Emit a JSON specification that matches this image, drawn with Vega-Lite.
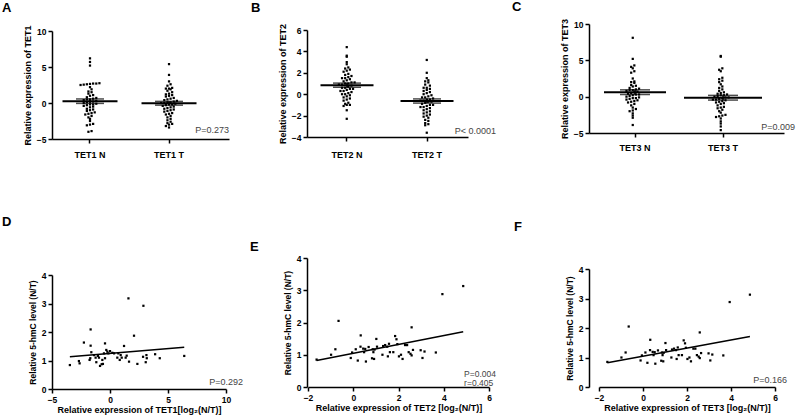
{
  "$schema": "https://vega.github.io/schema/vega-lite/v6.json",
  "padding": {"left": 2, "top": 0, "right": 0, "bottom": 0},
  "background": "white",
  "config": {
    "view": {"stroke": null},
    "font": "Liberation Sans",
    "axis": {"grid": false, "domainColor": "black", "domainWidth": 1.5, "tickColor": "black", "tickWidth": 1.5, "tickSize": 4, "labelColor": "black", "labelFont": "Liberation Sans", "labelFontWeight": "bold", "labelFontSize": 8.5, "labelPadding": 2, "labelFlush": false, "titleColor": "black", "titleFont": "Liberation Sans", "titleFontWeight": "bold", "titleFontSize": 9, "titlePadding": 4},
    "axisX": {"titlePadding": 2},
    "title": {"fontSize": 13, "fontWeight": "bold", "anchor": "start", "frame": "group", "color": "black", "font": "Liberation Sans"}
  },
  "datasets": {
    "tet1": [
      {"g": "TET1 N", "v": 6.2}, {"g": "TET1 N", "v": 5.7}, {"g": "TET1 N", "v": 5.2}, {"g": "TET1 N", "v": 2.75}, {"g": "TET1 N", "v": 2.7}, {"g": "TET1 N", "v": 2.7}, {"g": "TET1 N", "v": 2.65}, {"g": "TET1 N", "v": 2.6}, {"g": "TET1 N", "v": 2.55}, {"g": "TET1 N", "v": 2.5}, {"g": "TET1 N", "v": 2.2}, {"g": "TET1 N", "v": 1.9}, {"g": "TET1 N", "v": 1.6}, {"g": "TET1 N", "v": 1.5}, {"g": "TET1 N", "v": 1.3}, {"g": "TET1 N", "v": 1.1}, {"g": "TET1 N", "v": 1.0}, {"g": "TET1 N", "v": 0.8}, {"g": "TET1 N", "v": 0.7}, {"g": "TET1 N", "v": 0.6}, {"g": "TET1 N", "v": 0.5}, {"g": "TET1 N", "v": 0.5}, {"g": "TET1 N", "v": 0.4}, {"g": "TET1 N", "v": 0.3}, {"g": "TET1 N", "v": 0.2}, {"g": "TET1 N", "v": 0.2}, {"g": "TET1 N", "v": 0.1}, {"g": "TET1 N", "v": 0.0}, {"g": "TET1 N", "v": -0.1}, {"g": "TET1 N", "v": -0.2}, {"g": "TET1 N", "v": -0.2}, {"g": "TET1 N", "v": -0.3}, {"g": "TET1 N", "v": -0.4}, {"g": "TET1 N", "v": -0.5}, {"g": "TET1 N", "v": -0.6}, {"g": "TET1 N", "v": -0.8}, {"g": "TET1 N", "v": -0.9}, {"g": "TET1 N", "v": -1.0}, {"g": "TET1 N", "v": -1.1}, {"g": "TET1 N", "v": -1.3}, {"g": "TET1 N", "v": -1.4}, {"g": "TET1 N", "v": -1.5}, {"g": "TET1 N", "v": -1.6}, {"g": "TET1 N", "v": -1.8}, {"g": "TET1 N", "v": -2.0}, {"g": "TET1 N", "v": -2.2}, {"g": "TET1 N", "v": -2.5}, {"g": "TET1 N", "v": -2.9}, {"g": "TET1 N", "v": -3.0}, {"g": "TET1 N", "v": -3.1}, {"g": "TET1 N", "v": -3.9}, {"g": "TET1 N", "v": -4.0},
      {"g": "TET1 T", "v": 5.4}, {"g": "TET1 T", "v": 3.9}, {"g": "TET1 T", "v": 3.0}, {"g": "TET1 T", "v": 2.6}, {"g": "TET1 T", "v": 2.4}, {"g": "TET1 T", "v": 2.1}, {"g": "TET1 T", "v": 2.0}, {"g": "TET1 T", "v": 2.0}, {"g": "TET1 T", "v": 1.9}, {"g": "TET1 T", "v": 1.7}, {"g": "TET1 T", "v": 1.5}, {"g": "TET1 T", "v": 1.3}, {"g": "TET1 T", "v": 1.2}, {"g": "TET1 T", "v": 1.1}, {"g": "TET1 T", "v": 1.0}, {"g": "TET1 T", "v": 0.9}, {"g": "TET1 T", "v": 0.7}, {"g": "TET1 T", "v": 0.6}, {"g": "TET1 T", "v": 0.5}, {"g": "TET1 T", "v": 0.4}, {"g": "TET1 T", "v": 0.3}, {"g": "TET1 T", "v": 0.2}, {"g": "TET1 T", "v": 0.1}, {"g": "TET1 T", "v": 0.1}, {"g": "TET1 T", "v": 0.0}, {"g": "TET1 T", "v": 0.0}, {"g": "TET1 T", "v": -0.1}, {"g": "TET1 T", "v": -0.2}, {"g": "TET1 T", "v": -0.2}, {"g": "TET1 T", "v": -0.3}, {"g": "TET1 T", "v": -0.4}, {"g": "TET1 T", "v": -0.5}, {"g": "TET1 T", "v": -0.6}, {"g": "TET1 T", "v": -0.7}, {"g": "TET1 T", "v": -0.8}, {"g": "TET1 T", "v": -0.9}, {"g": "TET1 T", "v": -1.0}, {"g": "TET1 T", "v": -1.1}, {"g": "TET1 T", "v": -1.2}, {"g": "TET1 T", "v": -1.4}, {"g": "TET1 T", "v": -1.5}, {"g": "TET1 T", "v": -1.6}, {"g": "TET1 T", "v": -1.8}, {"g": "TET1 T", "v": -2.0}, {"g": "TET1 T", "v": -2.2}, {"g": "TET1 T", "v": -2.4}, {"g": "TET1 T", "v": -2.6}, {"g": "TET1 T", "v": -2.8}, {"g": "TET1 T", "v": -2.9}, {"g": "TET1 T", "v": -3.0}, {"g": "TET1 T", "v": -3.2}, {"g": "TET1 T", "v": -3.4}
    ],
    "tet2": [
      {"g": "TET2 N", "v": 4.4}, {"g": "TET2 N", "v": 3.6}, {"g": "TET2 N", "v": 3.5}, {"g": "TET2 N", "v": 3.0}, {"g": "TET2 N", "v": 2.8}, {"g": "TET2 N", "v": 2.5}, {"g": "TET2 N", "v": 2.4}, {"g": "TET2 N", "v": 2.3}, {"g": "TET2 N", "v": 2.2}, {"g": "TET2 N", "v": 2.1}, {"g": "TET2 N", "v": 1.9}, {"g": "TET2 N", "v": 1.8}, {"g": "TET2 N", "v": 1.7}, {"g": "TET2 N", "v": 1.6}, {"g": "TET2 N", "v": 1.5}, {"g": "TET2 N", "v": 1.5}, {"g": "TET2 N", "v": 1.4}, {"g": "TET2 N", "v": 1.3}, {"g": "TET2 N", "v": 1.2}, {"g": "TET2 N", "v": 1.1}, {"g": "TET2 N", "v": 1.1}, {"g": "TET2 N", "v": 1.0}, {"g": "TET2 N", "v": 1.0}, {"g": "TET2 N", "v": 0.9}, {"g": "TET2 N", "v": 0.9}, {"g": "TET2 N", "v": 0.8}, {"g": "TET2 N", "v": 0.7}, {"g": "TET2 N", "v": 0.6}, {"g": "TET2 N", "v": 0.6}, {"g": "TET2 N", "v": 0.5}, {"g": "TET2 N", "v": 0.5}, {"g": "TET2 N", "v": 0.4}, {"g": "TET2 N", "v": 0.3}, {"g": "TET2 N", "v": 0.3}, {"g": "TET2 N", "v": 0.2}, {"g": "TET2 N", "v": 0.1}, {"g": "TET2 N", "v": 0.0}, {"g": "TET2 N", "v": 0.0}, {"g": "TET2 N", "v": -0.1}, {"g": "TET2 N", "v": -0.2}, {"g": "TET2 N", "v": -0.3}, {"g": "TET2 N", "v": -0.4}, {"g": "TET2 N", "v": -0.5}, {"g": "TET2 N", "v": -0.6}, {"g": "TET2 N", "v": -0.8}, {"g": "TET2 N", "v": -0.9}, {"g": "TET2 N", "v": -1.0}, {"g": "TET2 N", "v": -1.0}, {"g": "TET2 N", "v": -1.1}, {"g": "TET2 N", "v": -1.5}, {"g": "TET2 N", "v": -2.3},
      {"g": "TET2 T", "v": 3.2}, {"g": "TET2 T", "v": 2.0}, {"g": "TET2 T", "v": 1.5}, {"g": "TET2 T", "v": 1.3}, {"g": "TET2 T", "v": 1.2}, {"g": "TET2 T", "v": 1.1}, {"g": "TET2 T", "v": 0.9}, {"g": "TET2 T", "v": 0.8}, {"g": "TET2 T", "v": 0.6}, {"g": "TET2 T", "v": 0.6}, {"g": "TET2 T", "v": 0.5}, {"g": "TET2 T", "v": 0.4}, {"g": "TET2 T", "v": 0.3}, {"g": "TET2 T", "v": 0.2}, {"g": "TET2 T", "v": 0.1}, {"g": "TET2 T", "v": 0.0}, {"g": "TET2 T", "v": -0.1}, {"g": "TET2 T", "v": -0.2}, {"g": "TET2 T", "v": -0.3}, {"g": "TET2 T", "v": -0.3}, {"g": "TET2 T", "v": -0.4}, {"g": "TET2 T", "v": -0.5}, {"g": "TET2 T", "v": -0.5}, {"g": "TET2 T", "v": -0.6}, {"g": "TET2 T", "v": -0.6}, {"g": "TET2 T", "v": -0.7}, {"g": "TET2 T", "v": -0.7}, {"g": "TET2 T", "v": -0.8}, {"g": "TET2 T", "v": -0.9}, {"g": "TET2 T", "v": -1.0}, {"g": "TET2 T", "v": -1.0}, {"g": "TET2 T", "v": -1.1}, {"g": "TET2 T", "v": -1.2}, {"g": "TET2 T", "v": -1.2}, {"g": "TET2 T", "v": -1.3}, {"g": "TET2 T", "v": -1.4}, {"g": "TET2 T", "v": -1.5}, {"g": "TET2 T", "v": -1.6}, {"g": "TET2 T", "v": -1.7}, {"g": "TET2 T", "v": -1.8}, {"g": "TET2 T", "v": -1.9}, {"g": "TET2 T", "v": -2.0}, {"g": "TET2 T", "v": -2.1}, {"g": "TET2 T", "v": -2.2}, {"g": "TET2 T", "v": -2.4}, {"g": "TET2 T", "v": -2.5}, {"g": "TET2 T", "v": -2.7}, {"g": "TET2 T", "v": -2.8}, {"g": "TET2 T", "v": -2.9}, {"g": "TET2 T", "v": -3.6}
    ],
    "tet3": [
      {"g": "TET3 N", "v": 8.1}, {"g": "TET3 N", "v": 5.2}, {"g": "TET3 N", "v": 4.3}, {"g": "TET3 N", "v": 4.1}, {"g": "TET3 N", "v": 3.9}, {"g": "TET3 N", "v": 3.5}, {"g": "TET3 N", "v": 3.3}, {"g": "TET3 N", "v": 2.5}, {"g": "TET3 N", "v": 2.1}, {"g": "TET3 N", "v": 2.0}, {"g": "TET3 N", "v": 1.9}, {"g": "TET3 N", "v": 1.6}, {"g": "TET3 N", "v": 1.5}, {"g": "TET3 N", "v": 1.4}, {"g": "TET3 N", "v": 1.2}, {"g": "TET3 N", "v": 1.1}, {"g": "TET3 N", "v": 1.0}, {"g": "TET3 N", "v": 0.9}, {"g": "TET3 N", "v": 0.9}, {"g": "TET3 N", "v": 0.8}, {"g": "TET3 N", "v": 0.7}, {"g": "TET3 N", "v": 0.6}, {"g": "TET3 N", "v": 0.5}, {"g": "TET3 N", "v": 0.4}, {"g": "TET3 N", "v": 0.3}, {"g": "TET3 N", "v": 0.3}, {"g": "TET3 N", "v": 0.2}, {"g": "TET3 N", "v": 0.1}, {"g": "TET3 N", "v": 0.0}, {"g": "TET3 N", "v": -0.1}, {"g": "TET3 N", "v": -0.2}, {"g": "TET3 N", "v": -0.2}, {"g": "TET3 N", "v": -0.3}, {"g": "TET3 N", "v": -0.4}, {"g": "TET3 N", "v": -0.5}, {"g": "TET3 N", "v": -0.6}, {"g": "TET3 N", "v": -0.7}, {"g": "TET3 N", "v": -0.8}, {"g": "TET3 N", "v": -1.0}, {"g": "TET3 N", "v": -1.2}, {"g": "TET3 N", "v": -1.5}, {"g": "TET3 N", "v": -1.7}, {"g": "TET3 N", "v": -1.9}, {"g": "TET3 N", "v": -2.0}, {"g": "TET3 N", "v": -2.3}, {"g": "TET3 N", "v": -2.6}, {"g": "TET3 N", "v": -2.9}, {"g": "TET3 N", "v": -3.9},
      {"g": "TET3 T", "v": 5.6}, {"g": "TET3 T", "v": 5.5}, {"g": "TET3 T", "v": 3.9}, {"g": "TET3 T", "v": 3.7}, {"g": "TET3 T", "v": 3.5}, {"g": "TET3 T", "v": 2.6}, {"g": "TET3 T", "v": 2.4}, {"g": "TET3 T", "v": 2.2}, {"g": "TET3 T", "v": 2.0}, {"g": "TET3 T", "v": 1.7}, {"g": "TET3 T", "v": 1.4}, {"g": "TET3 T", "v": 1.2}, {"g": "TET3 T", "v": 1.0}, {"g": "TET3 T", "v": 0.8}, {"g": "TET3 T", "v": 0.6}, {"g": "TET3 T", "v": 0.5}, {"g": "TET3 T", "v": 0.4}, {"g": "TET3 T", "v": 0.3}, {"g": "TET3 T", "v": 0.2}, {"g": "TET3 T", "v": 0.2}, {"g": "TET3 T", "v": 0.1}, {"g": "TET3 T", "v": 0.0}, {"g": "TET3 T", "v": -0.1}, {"g": "TET3 T", "v": -0.1}, {"g": "TET3 T", "v": -0.2}, {"g": "TET3 T", "v": -0.3}, {"g": "TET3 T", "v": -0.4}, {"g": "TET3 T", "v": -0.4}, {"g": "TET3 T", "v": -0.5}, {"g": "TET3 T", "v": -0.6}, {"g": "TET3 T", "v": -0.7}, {"g": "TET3 T", "v": -0.8}, {"g": "TET3 T", "v": -0.9}, {"g": "TET3 T", "v": -1.0}, {"g": "TET3 T", "v": -1.2}, {"g": "TET3 T", "v": -1.4}, {"g": "TET3 T", "v": -1.5}, {"g": "TET3 T", "v": -1.6}, {"g": "TET3 T", "v": -1.8}, {"g": "TET3 T", "v": -2.0}, {"g": "TET3 T", "v": -2.2}, {"g": "TET3 T", "v": -2.5}, {"g": "TET3 T", "v": -2.6}, {"g": "TET3 T", "v": -2.7}, {"g": "TET3 T", "v": -2.8}, {"g": "TET3 T", "v": -3.0}, {"g": "TET3 T", "v": -3.4}, {"g": "TET3 T", "v": -3.7}, {"g": "TET3 T", "v": -4.1}, {"g": "TET3 T", "v": -4.6}
    ],
    "d": [
      {"x": -3.46, "y": 0.84}, {"x": -2.68, "y": 0.98}, {"x": -2.62, "y": 0.9}, {"x": -2.25, "y": 1.63}, {"x": -1.76, "y": 1.02}, {"x": -1.67, "y": 2.09}, {"x": -1.67, "y": 1.52}, {"x": -1.61, "y": 1.29}, {"x": -1.7, "y": 1.08}, {"x": -1.38, "y": 1.19}, {"x": -1.24, "y": 1.1}, {"x": -1.18, "y": 0.94}, {"x": -1.04, "y": 1.16}, {"x": -0.95, "y": 1.1}, {"x": -0.86, "y": 0.81}, {"x": -0.72, "y": 0.87}, {"x": -0.66, "y": 1.02}, {"x": -0.61, "y": 0.88}, {"x": -0.52, "y": 1.25}, {"x": -0.43, "y": 1.6}, {"x": -0.43, "y": 1.08}, {"x": -0.32, "y": 1.37}, {"x": -0.23, "y": 1.31}, {"x": -0.14, "y": 1.25}, {"x": 0.0, "y": 1.33}, {"x": 0.2, "y": 1.27}, {"x": 0.35, "y": 1.25}, {"x": 0.63, "y": 1.1}, {"x": 0.72, "y": 1.25}, {"x": 0.84, "y": 1.02}, {"x": 0.92, "y": 1.19}, {"x": 1.01, "y": 1.1}, {"x": 1.21, "y": 1.51}, {"x": 1.35, "y": 1.1}, {"x": 1.44, "y": 1.17}, {"x": 1.59, "y": 3.18}, {"x": 1.64, "y": 0.96}, {"x": 2.07, "y": 1.87}, {"x": 2.36, "y": 0.88}, {"x": 2.85, "y": 1.13}, {"x": 2.88, "y": 2.92}, {"x": 3.08, "y": 0.94}, {"x": 3.14, "y": 1.19}, {"x": 3.17, "y": 1.08}, {"x": 3.89, "y": 1.22}, {"x": 4.29, "y": 1.08}, {"x": 6.4, "y": 1.16}
    ],
    "ef": [
      {"x": -1.62, "y": 0.85}, {"x": -0.98, "y": 1.0}, {"x": -0.79, "y": 1.17}, {"x": -0.65, "y": 2.05}, {"x": -0.11, "y": 0.9}, {"x": -0.05, "y": 1.07}, {"x": 0.11, "y": 1.17}, {"x": 0.2, "y": 0.82}, {"x": 0.32, "y": 1.25}, {"x": 0.33, "y": 1.6}, {"x": 0.44, "y": 1.19}, {"x": 0.48, "y": 1.08}, {"x": 0.53, "y": 1.18}, {"x": 0.56, "y": 0.79}, {"x": 0.68, "y": 1.24}, {"x": 0.83, "y": 0.89}, {"x": 0.86, "y": 1.17}, {"x": 0.89, "y": 1.08}, {"x": 0.92, "y": 0.87}, {"x": 0.94, "y": 1.16}, {"x": 1.02, "y": 1.49}, {"x": 1.05, "y": 1.25}, {"x": 1.29, "y": 1.0}, {"x": 1.32, "y": 1.27}, {"x": 1.41, "y": 1.3}, {"x": 1.5, "y": 1.25}, {"x": 1.53, "y": 0.95}, {"x": 1.58, "y": 1.34}, {"x": 1.62, "y": 1.08}, {"x": 1.77, "y": 1.08}, {"x": 1.85, "y": 1.58}, {"x": 1.91, "y": 1.48}, {"x": 1.95, "y": 1.33}, {"x": 2.02, "y": 0.95}, {"x": 2.11, "y": 1.0}, {"x": 2.18, "y": 0.87}, {"x": 2.29, "y": 1.3}, {"x": 2.38, "y": 1.3}, {"x": 2.45, "y": 1.08}, {"x": 2.53, "y": 1.03}, {"x": 2.58, "y": 1.85}, {"x": 2.58, "y": 0.98}, {"x": 2.64, "y": 1.15}, {"x": 2.98, "y": 1.14}, {"x": 3.06, "y": 0.9}, {"x": 3.15, "y": 1.1}, {"x": 3.65, "y": 1.07}, {"x": 3.94, "y": 2.88}, {"x": 4.86, "y": 3.13}
    ]
  },
  "columns": 3,
  "align": "each",
  "bounds": "flush",
  "spacing": {"row": 119, "column": 78},
  "concat": [
    {
      "width": 177, "height": 115,
      "title": {"text": "A", "dx": -50, "offset": 8.75},
      "data": {"name": "tet1"},
      "encoding": {
        "x": {"field": "g", "type": "nominal", "sort": ["TET1 N", "TET1 T"], "title": null,
          "scale": {"type": "band", "paddingInner": 0.5, "paddingOuter": 0.37, "align": 0.312},
          "axis": {"labelAngle": 0, "labelFontSize": 9, "labelPadding": 7, "bandPosition": 0.5}},
        "y": {"field": "v", "type": "quantitative", "title": "Relative expression of TET1",
          "scale": {"domain": [-5, 10], "range": [115, 7], "nice": false, "zero": false},
          "axis": {"values": [-5, 0, 5, 10]}}
      },
      "layer": [
        {
          "transform": [
            {"bin": {"step": 0.4}, "field": "v", "as": "vb"},
            {"window": [{"op": "row_number", "as": "rk"}], "groupby": ["g", "vb"], "sort": [{"field": "v"}]},
            {"joinaggregate": [{"op": "count", "as": "n"}], "groupby": ["g", "vb"]},
            {"calculate": "datum.rk - (datum.n + 1) / 2", "as": "slot"}
          ],
          "mark": {"type": "square", "size": 5, "color": "black", "opacity": 1},
          "encoding": {"xOffset": {"field": "slot", "type": "quantitative", "scale": {"domain": [-5.64, 5.64], "nice": false, "zero": false}}}
        },
        {"mark": {"type": "errorbar", "extent": "stderr", "ticks": true, "size": 28, "thickness": 1.5, "color": "black"}},
        {"mark": {"type": "tick", "color": "black", "thickness": 2, "size": 55},
         "encoding": {"y": {"aggregate": "mean", "field": "v", "type": "quantitative", "title": "Relative expression of TET1"}}},
        {"data": {"values": [{"g": "TET1 T", "v": -4.44, "label": "P=0.273"}]},
         "mark": {"type": "text", "align": "right", "baseline": "bottom", "dx": 60, "fontSize": 9, "fill": "#444"},
         "encoding": {"text": {"field": "label", "type": "nominal"}}}
      ]
    },
    {
      "width": 204, "height": 113,
      "title": {"text": "B", "dx": -56, "offset": 8.75},
      "data": {"name": "tet2"},
      "encoding": {
        "x": {"field": "g", "type": "nominal", "sort": ["TET2 N", "TET2 T"], "title": null,
          "scale": {"type": "band", "range": [0, 161], "paddingInner": 0.5, "paddingOuter": 0.256, "align": 0.488},
          "axis": {"labelAngle": 0, "labelFontSize": 9, "labelPadding": 9, "bandPosition": 0.5}},
        "y": {"field": "v", "type": "quantitative", "title": "Relative expression of TET2",
          "scale": {"domain": [-4, 6], "range": [113, 6], "nice": false, "zero": false},
          "axis": {"values": [-4, -2, 0, 2, 4, 6]}}
      },
      "layer": [
        {
          "transform": [
            {"bin": {"step": 0.3}, "field": "v", "as": "vb"},
            {"window": [{"op": "row_number", "as": "rk"}], "groupby": ["g", "vb"], "sort": [{"field": "v"}]},
            {"joinaggregate": [{"op": "count", "as": "n"}], "groupby": ["g", "vb"]},
            {"calculate": "datum.rk - (datum.n + 1) / 2", "as": "slot"}
          ],
          "mark": {"type": "square", "size": 5, "color": "black", "opacity": 1},
          "encoding": {"xOffset": {"field": "slot", "type": "quantitative", "scale": {"domain": [-5.71, 5.71], "nice": false, "zero": false}}}
        },
        {"mark": {"type": "errorbar", "extent": "stderr", "ticks": true, "size": 28, "thickness": 1.5, "color": "black"}},
        {"mark": {"type": "tick", "color": "black", "thickness": 2, "size": 53},
         "encoding": {"y": {"aggregate": "mean", "field": "v", "type": "quantitative", "title": "Relative expression of TET2"}}},
        {"data": {"values": [{"g": "TET2 T", "v": -3.9, "label": "P< 0.0001"}]},
         "mark": {"type": "text", "align": "right", "baseline": "bottom", "dx": 69, "fontSize": 9, "fill": "#444"},
         "encoding": {"text": {"field": "label", "type": "nominal"}}}
      ]
    },
    {
      "width": 195, "height": 109,
      "title": {"text": "C", "dx": -77, "offset": 4.5},
      "data": {"name": "tet3"},
      "encoding": {
        "x": {"field": "g", "type": "nominal", "sort": ["TET3 N", "TET3 T"], "title": null,
          "scale": {"type": "band", "paddingInner": 0.5, "paddingOuter": 0.358, "align": 0.381},
          "axis": {"labelAngle": 0, "labelFontSize": 9, "labelPadding": 6, "bandPosition": 0.5}},
        "y": {"field": "v", "type": "quantitative", "title": "Relative expression of TET3",
          "scale": {"domain": [-5, 10], "nice": false, "zero": false},
          "axis": {"values": [-5, 0, 5, 10]}}
      },
      "layer": [
        {
          "transform": [
            {"bin": {"step": 0.4}, "field": "v", "as": "vb"},
            {"window": [{"op": "row_number", "as": "rk"}], "groupby": ["g", "vb"], "sort": [{"field": "v"}]},
            {"joinaggregate": [{"op": "count", "as": "n"}], "groupby": ["g", "vb"]},
            {"calculate": "datum.rk - (datum.n + 1) / 2", "as": "slot"}
          ],
          "mark": {"type": "square", "size": 5, "color": "black", "opacity": 1},
          "encoding": {"xOffset": {"field": "slot", "type": "quantitative", "scale": {"domain": [-6.29, 6.29], "nice": false, "zero": false}}}
        },
        {"mark": {"type": "errorbar", "extent": "stderr", "ticks": true, "size": 30, "thickness": 1.5, "color": "black"}},
        {"mark": {"type": "tick", "color": "black", "thickness": 2},
         "encoding": {"y": {"aggregate": "mean", "field": "v", "type": "quantitative", "title": "Relative expression of TET3"},
           "size": {"condition": {"test": "datum.g == 'TET3 T'", "value": 78}, "value": 62}}},
        {"data": {"values": [{"g": "TET3 T", "v": -4.86, "label": "P=0.009"}]},
         "mark": {"type": "text", "align": "right", "baseline": "bottom", "dx": 72, "fontSize": 9, "fill": "#444"},
         "encoding": {"text": {"field": "label", "type": "nominal"}}}
      ]
    },
    {
      "width": 174, "height": 131,
      "title": {"text": "D", "dx": -50, "offset": 28.75},
      "data": {"name": "d"},
      "encoding": {
        "x": {"field": "x", "type": "quantitative", "title": "Relative expression of TET1[log₂(N/T)]", "scale": {"domain": [-5, 10], "nice": false, "zero": false}, "axis": {"values": [-5, 0, 5, 10]}},
        "y": {"field": "y", "type": "quantitative", "title": "Relative 5-hmC level (N/T)", "scale": {"domain": [0, 4], "range": [131, 17], "nice": false}, "axis": {"values": [0, 1, 2, 3, 4], "titleFontSize": 8.5}}
      },
      "layer": [
        {"mark": {"type": "square", "size": 5, "color": "black", "opacity": 1}},
        {"transform": [{"regression": "y", "on": "x"}], "mark": {"type": "line", "color": "black", "strokeWidth": 1.5}},
        {"data": {"values": [{"x": 11.47, "y": 0.07, "label": "P=0.292"}]},
         "mark": {"type": "text", "align": "right", "baseline": "bottom", "fontSize": 9, "fill": "#444"},
         "encoding": {"text": {"field": "label", "type": "nominal"}}}
      ]
    },
    {
      "width": 182, "height": 129,
      "title": {"text": "E", "dx": -57, "offset": 0},
      "data": {"name": "ef"},
      "encoding": {
        "x": {"field": "x", "type": "quantitative", "title": "Relative expression of TET2 [log₂(N/T)]", "scale": {"domain": [-2, 6], "range": [1, 182], "nice": false, "zero": false}, "axis": {"values": [-2, 0, 2, 4, 6]}},
        "y": {"field": "y", "type": "quantitative", "title": "Relative 5-hmC level (N/T)", "scale": {"domain": [0, 4], "nice": false}, "axis": {"values": [0, 1, 2, 3, 4], "titleFontSize": 8.5}}
      },
      "layer": [
        {"mark": {"type": "square", "size": 5, "color": "black", "opacity": 1}},
        {"transform": [{"regression": "y", "on": "x"}], "mark": {"type": "line", "color": "black", "strokeWidth": 1.5}},
        {"data": {"values": [{"x": 4.9, "y": 0.26, "label": "P=0.004"}, {"x": 4.9, "y": -0.03, "label": "r=0.405"}]},
         "mark": {"type": "text", "align": "left", "baseline": "bottom", "fontSize": 8.5, "fill": "#444"},
         "encoding": {"text": {"field": "label", "type": "nominal"}}}
      ]
    },
    {
      "width": 186, "height": 129,
      "title": {"text": "F", "dx": -75, "offset": 23.75},
      "data": {"name": "ef"},
      "encoding": {
        "x": {"field": "x", "type": "quantitative", "title": "Relative expression of TET3 [log₂(N/T)]", "scale": {"domain": [-2, 6], "range": [10, 186], "nice": false, "zero": false}, "axis": {"values": [-2, 0, 2, 4, 6]}},
        "y": {"field": "y", "type": "quantitative", "title": "Relative 5-hmC level (N/T)", "scale": {"domain": [0, 4], "range": [129, 11], "nice": false}, "axis": {"values": [0, 1, 2, 3, 4], "titleFontSize": 8.5}}
      },
      "layer": [
        {"mark": {"type": "square", "size": 5, "color": "black", "opacity": 1}},
        {"transform": [{"regression": "y", "on": "x"}], "mark": {"type": "line", "color": "black", "strokeWidth": 1.5}},
        {"data": {"values": [{"x": 6.55, "y": 0.07, "label": "P=0.166"}]},
         "mark": {"type": "text", "align": "right", "baseline": "bottom", "fontSize": 9, "fill": "#444"},
         "encoding": {"text": {"field": "label", "type": "nominal"}}}
      ]
    }
  ]
}
